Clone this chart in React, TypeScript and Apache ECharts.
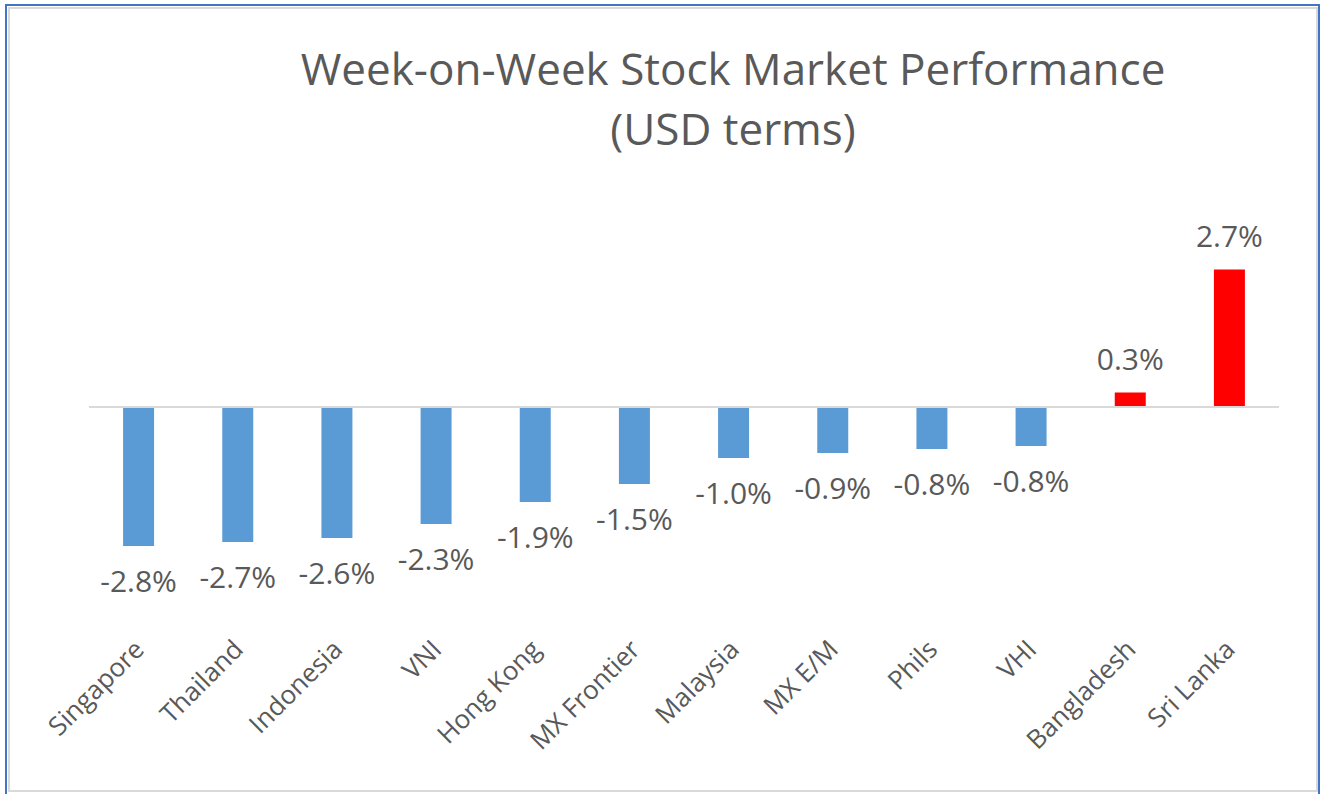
import React, { useEffect, useRef } from "react";
import * as echarts from "echarts";

const categories = [
  "Singapore",
  "Thailand",
  "Indonesia",
  "VNI",
  "Hong Kong",
  "MX Frontier",
  "Malaysia",
  "MX E/M",
  "Phils",
  "VHI",
  "Bangladesh",
  "Sri Lanka",
];
const values = [-2.78, -2.7, -2.62, -2.34, -1.9, -1.54, -1.02, -0.92, -0.84, -0.78, 0.29, 2.749];
const titleLine1 = "Week-on-Week Stock Market Performance";
const titleLine2 = "(USD terms)";

const FONT = "'Open Sans', 'Noto Sans', sans-serif";
const TEXT = "#595959";

export default function App() {
  const ref = useRef<HTMLDivElement>(null);
  useEffect(() => {
    if (!ref.current) return;
    const chart = echarts.init(ref.current, null, { renderer: "svg" });
    chart.setOption({
      animation: false,
      backgroundColor: "#ffffff",
      title: [
        {
          text: titleLine1,
          left: 728,
          top: 41,
          textAlign: "center",
          textStyle: { fontFamily: FONT, fontSize: 44, fontWeight: "normal", color: TEXT },
        },
        {
          text: titleLine2,
          left: 728,
          top: 101,
          textAlign: "center",
          textStyle: { fontFamily: FONT, fontSize: 44, fontWeight: "normal", color: TEXT },
        },
      ],
      grid: { left: 89, right: 43, top: 232, bottom: 162, containLabel: false },
      xAxis: {
        type: "category",
        data: categories,
        position: "bottom",
        axisLine: { show: false, onZero: false },
        axisTick: { show: false },
        axisLabel: {
          rotate: 45,
          margin: 12,
          interval: 0,
          fontFamily: FONT,
          fontSize: 26,
          color: TEXT,
        },
      },
      yAxis: {
        type: "value",
        min: -4.5,
        max: 3.5,
        show: false,
        splitLine: { show: false },
      },
      series: [
        {
          type: "bar",
          barWidth: 31,
          data: values.map((v) => ({
            value: v,
            itemStyle: { color: v >= 0 ? "#FF0000" : "#5B9BD5" },
            label: { position: v >= 0 ? "top" : "bottom" },
          })),
          label: {
            show: true,
            distance: 19,
            fontFamily: FONT,
            fontSize: 30,
            color: TEXT,
            formatter: (p: any) => `${Number(p.value).toFixed(1)}%`,
          },
          markLine: {
            silent: true,
            symbol: ["none", "none"],
            label: { show: false },
            lineStyle: { color: "#D9D9D9", width: 2, type: "solid" },
            data: [{ yAxis: 0 }],
          },
        },
      ],
      graphic: [
        {
          type: "rect",
          shape: { x: 6, y: 5, width: 1313, height: 800 },
          style: { fill: "none", stroke: "#4472C4", lineWidth: 2 },
          silent: true,
        },
        {
          type: "rect",
          shape: { x: 9, y: 8, width: 1308, height: 783 },
          style: { fill: "none", stroke: "#D9D9D9", lineWidth: 2 },
          silent: true,
        },
      ],
    });
    return () => chart.dispose();
  }, []);
  return (
    <div
      ref={ref}
      style={{ position: "fixed", left: 0, top: 0, width: 1322, height: 794 }}
    />
  );
}
